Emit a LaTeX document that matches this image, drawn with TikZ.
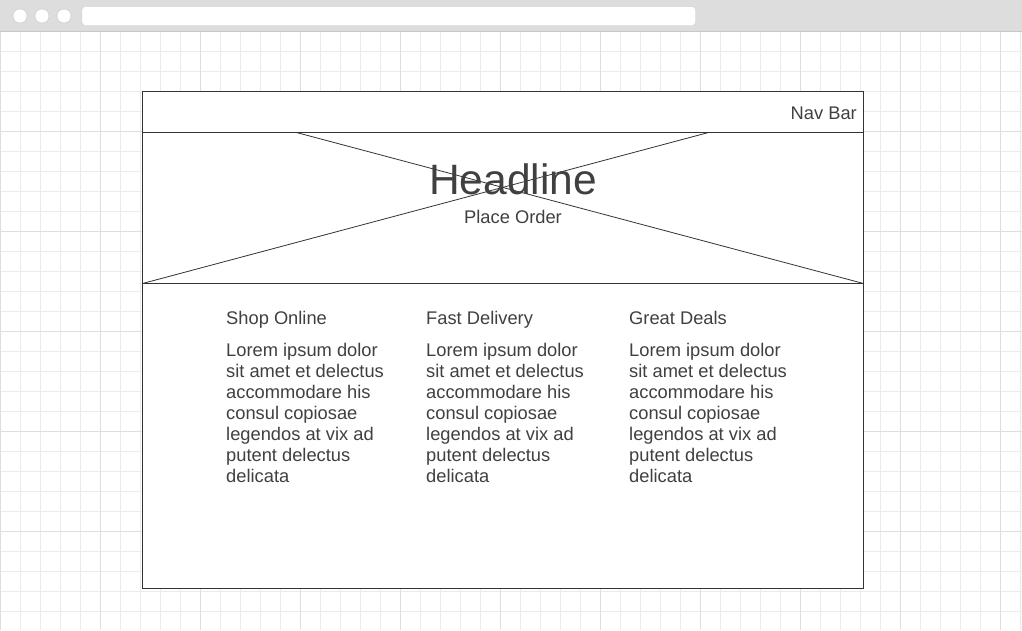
\documentclass[tikz,border=0pt]{standalone}
\usepackage{fontspec}
\setmainfont{Liberation Sans}
\usetikzlibrary{positioning}
\definecolor{chromegray}{RGB}{221,221,221}
\definecolor{chromeline}{RGB}{200,200,200}
\definecolor{gridminor}{RGB}{235,235,235}
\definecolor{gridmajor}{RGB}{222,222,222}
\definecolor{frameline}{RGB}{51,51,51}
\definecolor{textgray}{RGB}{64,64,64}
\newcommand\colorGridMinor{gridminor}
\newcommand\colorGridMajor{gridmajor}
\newcommand\gridStep{20}
\newcommand\gridTop{31}
\newcommand\drawGrid{
	\foreach \i in {0,...,51}{
		\draw[color=\colorGridMinor] (\i*\gridStep+0.5,\gridTop) to ++(0,599);
	}
	\foreach \j in {1,...,30}{
		\draw[color=\colorGridMinor] (0,\gridTop+\j*\gridStep) to ++(1022,0);
	}
	\foreach \i in {0,...,10}{
		\draw[color=\colorGridMajor] (\i*100+0.5,\gridTop) to ++(0,599);
	}
	\foreach \j in {1,...,5}{
		\draw[color=\colorGridMajor] (0,\gridTop+\j*100) to ++(1022,0);
	}
}
\tikzset{
	wire/.style={color=frameline, line width=1.1pt},
	cross/.style={color=frameline, line width=0.8pt},
	small text/.style={inner sep=0pt, text=textgray, font=\fontsize{18.3}{20.9}\selectfont},
	body text/.style={small text, align=left, anchor=north west}
}

\begin{document}
\begin{tikzpicture}[x=1pt, y=-1pt]
	\useasboundingbox (0,0) rectangle (1022,630);
	\fill[white] (0,0) rectangle (1022,630);
	\drawGrid

	% browser chrome
	\fill[chromegray] (0,0) rectangle (1022,31);
	\draw[chromeline] (0,31) -- (1022,31);
	\foreach \x in {20,42,64}{
		\draw[chromeline, fill=white] (\x,16) circle (7);
	}
	\draw[chromeline, fill=white, rounded corners=3] (82,6.5) rectangle (695.5,25.5);

	% page frame
	\fill[white] (142.5,91.5) rectangle (863.5,588.5);
	\coordinate (pageNW) at (142.5,91.5);
	\coordinate (pageSE) at (863.5,588.5);
	\coordinate (heroNW) at (142.5,132.5);
	\coordinate (heroNE) at (863.5,132.5);
	\coordinate (heroSW) at (142.5,283.5);
	\coordinate (heroSE) at (863.5,283.5);
	\coordinate (crossA) at (296.5,132.5);
	\coordinate (crossB) at (708.5,132.5);
	\draw[cross] (crossA) -- (heroSE);
	\draw[cross] (crossB) -- (heroSW);
	\draw[wire] (pageNW) rectangle (pageSE);
	\draw[wire] (heroNW) -- (heroNE);
	\draw[wire] (heroSW) -- (heroSE);

	\node[small text, anchor=base east] (navbar) at (857,119) {Nav Bar};
	\node[inner sep=0pt, text=textgray, font=\fontsize{42.5}{50}\selectfont, anchor=base] (headline) at (513,194.3) {Headline};
	\node[small text, anchor=base] (order) at (513,223.3) {Place Order};

	\foreach \x/\name/\title in {226/shop/Shop Online, 426/fast/Fast Delivery, 629/deals/Great Deals}{
		\node[small text, anchor=base west] (\name) at (\x,324.3) {\title};
		\node[body text] (\name body) at (\x,343.4) {Lorem ipsum dolor\\sit amet et delectus\\accommodare his\\consul copiosae\\legendos at vix ad\\putent delectus\\delicata};
	}
\end{tikzpicture}
\end{document}
